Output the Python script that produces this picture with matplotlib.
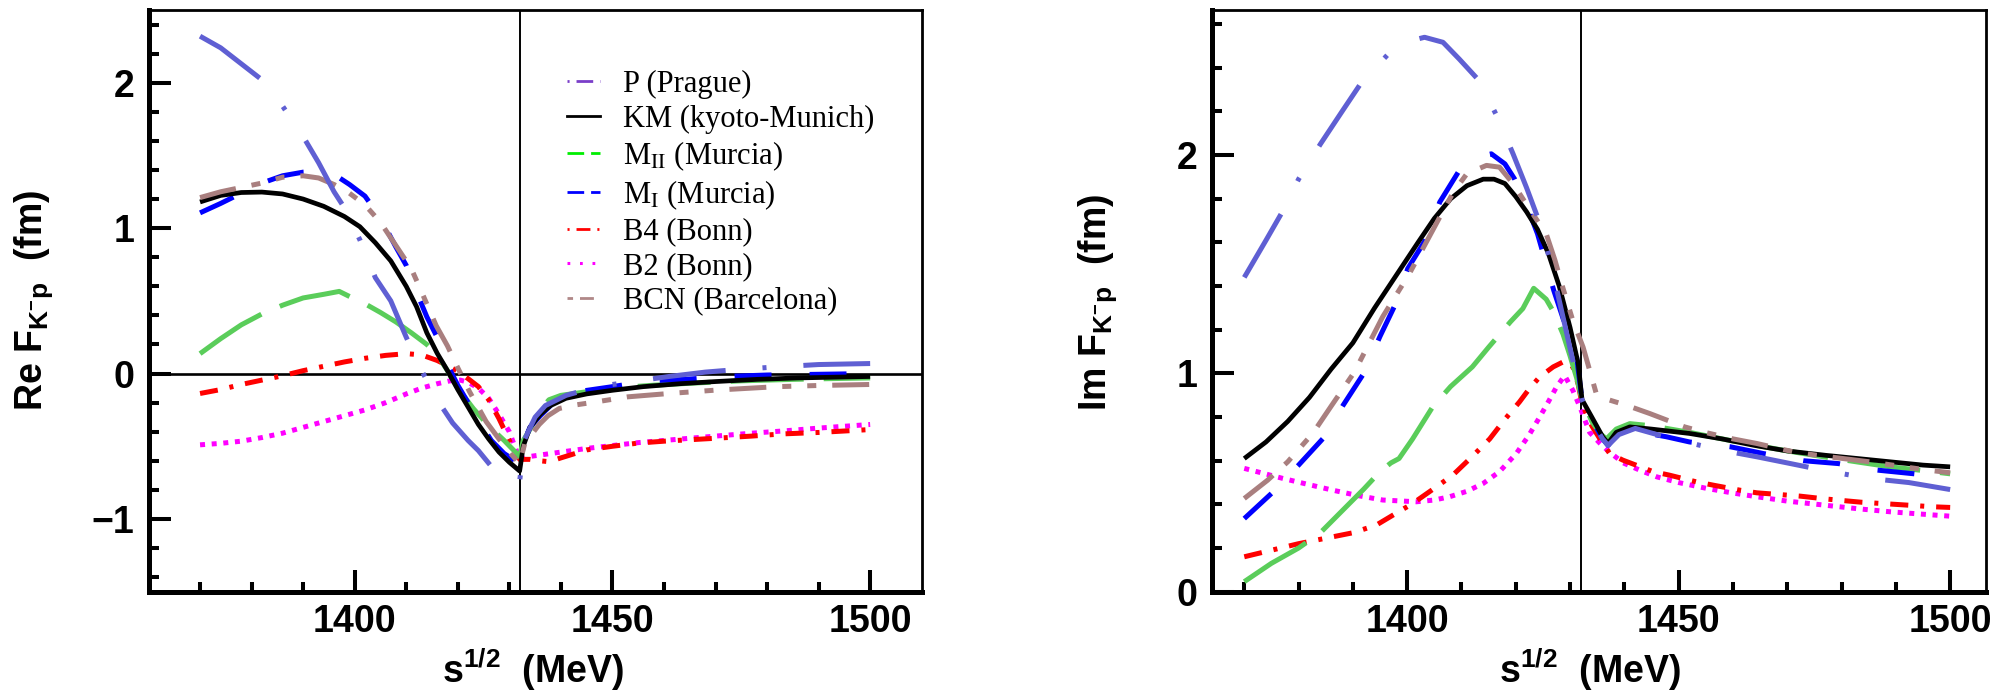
import matplotlib
matplotlib.use("Agg")
import matplotlib.pyplot as plt
from matplotlib.lines import Line2D
from matplotlib.font_manager import FontProperties
from matplotlib.ticker import MultipleLocator, FixedLocator

plt.rcParams['font.family'] = ['Liberation Sans', 'DejaVu Sans']
plt.rcParams['mathtext.fontset'] = 'custom'
plt.rcParams['mathtext.rm'] = 'Liberation Sans:bold'
plt.rcParams['mathtext.it'] = 'Liberation Sans:bold'
plt.rcParams['mathtext.bf'] = 'Liberation Sans:bold'
plt.rcParams['mathtext.default'] = 'rm'
plt.rcParams['lines.scale_dashes'] = False

# ---------------- data: Re F (left panel) ----------------
re_km_x = [1370, 1374, 1378, 1382, 1386, 1390, 1394, 1398, 1401, 1404, 1407, 1410, 1412, 1414, 1416, 1418,
           1420, 1422, 1424, 1426, 1428, 1430, 1432, 1432.7, 1434, 1436, 1438, 1441, 1445, 1450, 1456, 1463,
           1470, 1478, 1486, 1493, 1500]
re_km_y = [1.18, 1.225, 1.245, 1.248, 1.235, 1.20, 1.15, 1.08, 1.01, 0.90, 0.775, 0.60, 0.46, 0.28, 0.14, 0.02,
           -0.11, -0.23, -0.35, -0.45, -0.54, -0.61, -0.67, -0.50, -0.37, -0.28, -0.22, -0.17, -0.14, -0.115,
           -0.09, -0.07, -0.055, -0.04, -0.03, -0.025, -0.02]

re_m2_x = [1370, 1374, 1378, 1382, 1386, 1390, 1394, 1397, 1399, 1402, 1405, 1408, 1411, 1414, 1416, 1418,
           1420, 1423, 1426, 1429, 1432, 1432.7, 1434.5, 1436, 1437.7, 1440, 1445, 1450, 1458, 1466, 1475,
           1485, 1492, 1500]
re_m2_y = [0.137, 0.24, 0.335, 0.41, 0.47, 0.52, 0.545, 0.565, 0.53, 0.48, 0.42, 0.355, 0.28, 0.20, 0.13, 0.02,
           -0.10, -0.24, -0.36, -0.46, -0.57, -0.46, -0.355, -0.25, -0.18, -0.15, -0.125, -0.10, -0.08, -0.065,
           -0.05, -0.04, -0.035, -0.03]

re_m1_x = [1370, 1374, 1378, 1382, 1386, 1390, 1393, 1396, 1399, 1402, 1405, 1408, 1410, 1412, 1414, 1416,
           1418, 1420, 1422, 1424, 1426.5, 1429, 1432, 1432.7, 1434, 1436, 1438, 1440, 1443, 1450, 1457, 1464,
           1472, 1480, 1490, 1500]
re_m1_y = [1.105, 1.17, 1.24, 1.31, 1.36, 1.385, 1.39, 1.37, 1.30, 1.22, 1.07, 0.87, 0.744, 0.56, 0.39, 0.25,
           0.06, -0.08, -0.20, -0.32, -0.46, -0.55, -0.62, -0.48, -0.37, -0.29, -0.22, -0.17, -0.126, -0.09,
           -0.05, -0.04, -0.02, -0.01, -0.005, 0.0]

re_p_x = [1370, 1374, 1378, 1382, 1386, 1390, 1393, 1396, 1398, 1401, 1404, 1407, 1410, 1413, 1416, 1419,
          1422, 1424, 1427, 1429.5, 1432, 1433, 1435, 1437, 1441, 1445, 1450, 1455, 1461, 1468, 1475, 1482,
          1490, 1500]
re_p_y = [2.32, 2.24, 2.13, 2.02, 1.84, 1.63, 1.45, 1.25, 1.14, 0.92, 0.66, 0.50, 0.25, 0.02, -0.18, -0.34,
          -0.46, -0.53, -0.66, -0.72, -0.74, -0.45, -0.30, -0.22, -0.15, -0.11, -0.075, -0.05, -0.02, 0.01,
          0.03, 0.046, 0.062, 0.069]

re_b4_x = [1370, 1374, 1378, 1382, 1386, 1390, 1394, 1398, 1402, 1406, 1410, 1413, 1416, 1418, 1420, 1422,
           1424, 1426, 1428, 1430, 1432, 1434, 1436, 1437.7, 1440, 1445, 1450, 1455, 1460, 1465, 1470, 1477,
           1483, 1490, 1500]
re_b4_y = [-0.137, -0.11, -0.075, -0.045, -0.015, 0.02, 0.05, 0.08, 0.105, 0.125, 0.137, 0.128, 0.09, 0.055,
           0.015, -0.035, -0.09, -0.18, -0.31, -0.46, -0.59, -0.59, -0.60, -0.606, -0.58, -0.525, -0.50,
           -0.478, -0.465, -0.455, -0.445, -0.43, -0.415, -0.405, -0.385]

re_b2_x = [1370, 1374, 1378, 1382, 1386, 1390, 1394, 1398, 1402, 1406, 1410, 1413, 1416, 1418.5, 1420.5,
           1422, 1424, 1426, 1428, 1430, 1432, 1434, 1437, 1440, 1445, 1450, 1455, 1460, 1465, 1470, 1477,
           1483, 1490, 1500]
re_b2_y = [-0.49, -0.48, -0.465, -0.44, -0.41, -0.37, -0.33, -0.29, -0.25, -0.20, -0.14, -0.10, -0.07, -0.05,
           -0.045, -0.06, -0.10, -0.17, -0.28, -0.40, -0.59, -0.57, -0.555, -0.54, -0.515, -0.495, -0.475,
           -0.46, -0.445, -0.43, -0.41, -0.395, -0.375, -0.35]

re_bcn_x = [1370, 1374, 1378, 1382, 1386, 1390, 1393, 1396, 1399, 1402, 1405, 1408, 1411, 1413, 1415.8,
            1418, 1420, 1422.3, 1425.5, 1428, 1430.5, 1432, 1433, 1435.8, 1437.5, 1439.7, 1443, 1446.8, 1453,
            1461, 1470, 1482, 1490, 1500]
re_bcn_y = [1.21, 1.25, 1.28, 1.31, 1.35, 1.36, 1.345, 1.30, 1.24, 1.16, 1.04, 0.88, 0.72, 0.56, 0.33, 0.19,
            0.04, -0.126, -0.33, -0.45, -0.56, -0.62, -0.48, -0.35, -0.29, -0.24, -0.215, -0.195, -0.16,
            -0.137, -0.114, -0.09, -0.082, -0.075]

# ---------------- data: Im F (right panel) ----------------
im_km_x = [1370, 1374, 1378, 1382, 1386, 1390, 1394, 1398, 1402, 1405, 1408, 1411, 1414, 1416, 1418, 1420,
           1422, 1424, 1426, 1428, 1430, 1431.5, 1432.2, 1434, 1436, 1437, 1438.5, 1441, 1445, 1452, 1458,
           1464, 1470, 1477, 1483, 1489, 1495, 1500]
im_km_y = [0.61, 0.686, 0.78, 0.89, 1.02, 1.14, 1.30, 1.45, 1.60, 1.71, 1.80, 1.86, 1.89, 1.89, 1.87, 1.81,
           1.74, 1.66, 1.55, 1.40, 1.21, 1.045, 0.88, 0.80, 0.71, 0.68, 0.73, 0.755, 0.745, 0.725, 0.70, 0.67,
           0.645, 0.625, 0.61, 0.595, 0.58, 0.572]

im_m2_x = [1370, 1375, 1380, 1384, 1388, 1392, 1395, 1397, 1398.5, 1401, 1404.7, 1408, 1412, 1415, 1419,
           1421.3, 1423.3, 1425.6, 1427, 1428.7, 1430, 1431.2, 1432.1, 1434, 1435.5, 1436.7, 1438.5, 1441,
           1445, 1452, 1458, 1464.4, 1470, 1476.7, 1483, 1489, 1495, 1500]
im_m2_y = [0.046, 0.13, 0.20, 0.27, 0.37, 0.47, 0.55, 0.59, 0.61, 0.70, 0.847, 0.94, 1.03, 1.12, 1.236, 1.297,
           1.39, 1.34, 1.28, 1.18, 1.08, 0.98, 0.89, 0.78, 0.725, 0.70, 0.745, 0.77, 0.76, 0.73, 0.70, 0.67,
           0.645, 0.618, 0.594, 0.572, 0.555, 0.54]

im_m1_x = [1370, 1375, 1380, 1384.8, 1388.2, 1392, 1395, 1397.7, 1400.1, 1403.5, 1406, 1409.6, 1412.5,
           1415.5, 1418, 1419.8, 1422, 1424, 1427, 1429, 1431.2, 1432.2, 1434, 1436, 1437, 1438.5, 1441,
           1447.7, 1452, 1459.5, 1465.6, 1473, 1479.4, 1486.6, 1493.4, 1500]
im_m1_y = [0.335, 0.45, 0.58, 0.71, 0.854, 1.00, 1.17, 1.31, 1.48, 1.617, 1.785, 1.93, 1.99, 2.006, 1.96,
           1.89, 1.77, 1.64, 1.38, 1.23, 1.075, 0.88, 0.79, 0.70, 0.67, 0.72, 0.74, 0.71, 0.686, 0.664, 0.633,
           0.60, 0.587, 0.557, 0.54, 0.525]

im_p_x = [1370, 1374, 1377, 1380, 1384, 1388, 1391.5, 1396.4, 1400, 1403.2, 1406.6, 1409.6, 1413.3, 1416.7,
          1419.5, 1422, 1424.4, 1426.5, 1428.5, 1430.5, 1432.2, 1434, 1436, 1437, 1439, 1442, 1446, 1450.6,
          1457.3, 1464.4, 1470, 1477.9, 1485.2, 1492.4, 1500]
im_p_y = [1.44, 1.61, 1.74, 1.89, 2.05, 2.20, 2.33, 2.46, 2.52, 2.54, 2.517, 2.44, 2.34, 2.17, 2.006, 1.85,
          1.69, 1.50, 1.28, 1.06, 0.88, 0.78, 0.70, 0.67, 0.72, 0.748, 0.72, 0.69, 0.651, 0.618, 0.59, 0.55,
          0.519, 0.50, 0.468]

im_b4_x = [1370, 1375, 1380, 1385, 1390, 1394.3, 1398, 1401, 1404.5, 1408.4, 1412, 1415.2, 1418, 1420.7,
           1422.5, 1424.4, 1426.9, 1429.3, 1430.5, 1431.5, 1432.2, 1434, 1436, 1437.3, 1439.7, 1445.3, 1448.3,
           1453.3, 1456.4, 1461.3, 1464.4, 1472.3, 1477, 1483.6, 1490, 1496.9, 1500]
im_b4_y = [0.16, 0.19, 0.22, 0.245, 0.27, 0.305, 0.36, 0.404, 0.465, 0.534, 0.62, 0.70, 0.79, 0.87, 0.93,
           0.984, 1.03, 1.06, 1.03, 0.95, 0.86, 0.76, 0.68, 0.633, 0.603, 0.55, 0.534, 0.503, 0.488, 0.465,
           0.453, 0.438, 0.425, 0.41, 0.40, 0.389, 0.386]

im_b2_x = [1370, 1377.1, 1382, 1386.3, 1391, 1395.5, 1401.7, 1405, 1407.8, 1411, 1414, 1417, 1420.1, 1422.5,
           1424.4, 1426, 1427.5, 1429, 1430.5, 1431.8, 1433.6, 1435.5, 1437, 1439.8, 1443, 1446, 1450, 1455.2,
           1460, 1464.4, 1470, 1476.7, 1483, 1489, 1495, 1500]
im_b2_y = [0.565, 0.519, 0.49, 0.465, 0.44, 0.42, 0.412, 0.42, 0.435, 0.46, 0.496, 0.55, 0.633, 0.72, 0.80,
           0.87, 0.938, 0.99, 0.923, 0.847, 0.73, 0.68, 0.645, 0.59, 0.555, 0.526, 0.50, 0.473, 0.452, 0.435,
           0.415, 0.397, 0.38, 0.366, 0.355, 0.346]

im_bcn_x = [1370, 1374.3, 1378, 1382.6, 1386, 1390.3, 1395.5, 1400.4, 1406, 1408.5, 1411, 1414.6, 1417,
            1419.5, 1422.5, 1425.6, 1427.2, 1428.7, 1430.5, 1432.4, 1434.8, 1437, 1440.4, 1444.7, 1451.1,
            1454.5, 1460, 1464.4, 1471.1, 1475.4, 1480.3, 1485.2, 1491.6, 1495.9, 1500]
im_bcn_y = [0.427, 0.511, 0.595, 0.725, 0.85, 1.007, 1.26, 1.457, 1.716, 1.83, 1.915, 1.953, 1.945, 1.87,
            1.754, 1.64, 1.52, 1.39, 1.243, 1.12, 0.91, 0.88, 0.854, 0.816, 0.755, 0.732, 0.70, 0.679, 0.641,
            0.625, 0.61, 0.595, 0.572, 0.557, 0.545]

labels = ['P (Prague)', 'KM (kyoto-Munich)', r'M$_{\mathrm{II}}$ (Murcia)', r'M$_{\mathrm{I}}$ (Murcia)',
          'B4 (Bonn)', 'B2 (Bonn)', 'BCN (Barcelona)']
threshold = 1432.0

# ---------------- styles ----------------
LW = 3.6
styles = {
    'B2':  dict(color='#ff00ff', lw=LW, ls=(0, (3.6, 4.8))),
    'B4':  dict(color='#ff0000', lw=LW, ls=(0, (13, 8.6, 2.9, 8.6))),
    'MII': dict(color='#5acd5a', lw=LW, ls=(0, (52.6, 14.4))),
    'MI':  dict(color='#0000ff', lw=LW, ls=(0, (26.6, 27.4))),
    'KM':  dict(color='black', lw=3.4, ls='-'),
    'BCN': dict(color='#a97f7f', lw=LW, ls=(0, (26.6, 11.5, 6.5, 11.5, 6.5, 11.5))),
    'P':   dict(color='#5f5fd3', lw=LW, ls=(0, (52.6, 26.6, 2.9, 26.6))),
}

fig = plt.figure(figsize=(20.16, 6.96), dpi=100)
W, H = 2016.0, 696.0
ax1 = fig.add_axes([148.5 / W, 1 - 591.7 / H, (921.7 - 148.5) / W, (591.7 - 10) / H])
ax2 = fig.add_axes([1211.7 / W, 1 - 591.7 / H, (1986 - 1211.7) / W, (591.7 - 10) / H])

left_series = [('B2', re_b2_x, re_b2_y), ('B4', re_b4_x, re_b4_y), ('MII', re_m2_x, re_m2_y),
               ('MI', re_m1_x, re_m1_y), ('KM', re_km_x, re_km_y), ('BCN', re_bcn_x, re_bcn_y),
               ('P', re_p_x, re_p_y)]
right_series = [('B2', im_b2_x, im_b2_y), ('B4', im_b4_x, im_b4_y), ('MII', im_m2_x, im_m2_y),
                ('MI', im_m1_x, im_m1_y), ('KM', im_km_x, im_km_y), ('BCN', im_bcn_x, im_bcn_y),
                ('P', im_p_x, im_p_y)]

for ax, series in ((ax1, left_series), (ax2, right_series)):
    for key, xs, ys in series:
        st = styles[key]
        ax.plot(xs, ys, color=st['color'], lw=st['lw'], linestyle=st['ls'],
                solid_capstyle='butt', dash_capstyle='butt', solid_joinstyle='round', zorder=3)
    ax.axvline(threshold, color='black', lw=1.4, zorder=2)

ax1.axhline(0, color='black', lw=1.9, zorder=2)

ax1.set_xlim(1360, 1510)
ax1.set_ylim(-1.5, 2.5)
ax2.set_xlim(1364, 1506.6)
ax2.set_ylim(0, 2.665)

for ax in (ax1, ax2):
    ax.xaxis.set_major_locator(FixedLocator([1400, 1450, 1500]))
    ax.xaxis.set_minor_locator(FixedLocator([1370, 1380, 1390, 1410, 1420, 1430, 1440, 1460, 1470, 1480, 1490]))
    ax.yaxis.set_major_locator(MultipleLocator(1))
    ax.yaxis.set_minor_locator(MultipleLocator(0.2))
    ax.tick_params(which='both', direction='in', top=False, right=False, width=2.9)
    ax.tick_params(which='major', length=16)
    ax.tick_params(which='minor', length=7)
    ax.tick_params(axis='x', which='major', pad=9)
    ax.tick_params(axis='y', which='major', pad=10)
    for lab in ax.get_xticklabels() + ax.get_yticklabels():
        lab.set_fontsize(27)
        lab.set_fontweight('bold')
    for s in ('left', 'bottom'):
        ax.spines[s].set_linewidth(3.6)
    for s in ('top', 'right'):
        ax.spines[s].set_linewidth(2.0)

lab_kw = dict(fontsize=27, fontweight='bold')
fig.text(34 / W, 1 - 300 / H, r'Re F$_{\mathrm{K^{-}p}}$  (fm)', rotation=90, ha='center', va='center', **lab_kw)
fig.text(1098 / W, 1 - 302 / H, r'Im F$_{\mathrm{K^{-}p}}$  (fm)', rotation=90, ha='center', va='center', **lab_kw)
fig.text(533 / W, 1 - 670 / H, r's$^{\mathrm{1/2}}$  (MeV)', ha='center', va='center', **lab_kw)
fig.text(1590 / W, 1 - 670 / H, r's$^{\mathrm{1/2}}$  (MeV)', ha='center', va='center', **lab_kw)

# legend proxies (thin handles, as in the reference legend)
handles = [
    Line2D([], [], color='#7a3ec9', lw=2.0, ls=(0, (1.5, 5, 12, 5))),
    Line2D([], [], color='black', lw=2.0, ls='-'),
    Line2D([], [], color='#00ee00', lw=2.0, ls=(0, (12, 5))),
    Line2D([], [], color='#0000ff', lw=2.0, ls=(0, (12, 5))),
    Line2D([], [], color='#ff0000', lw=2.0, ls=(0, (1.5, 5, 10, 5))),
    Line2D([], [], color='#ff00ff', lw=2.2, ls=(0, (2, 7))),
    Line2D([], [], color='#b08888', lw=2.0, ls=(0, (4, 5, 10, 5))),
]
leg_font = FontProperties(family='Liberation Serif', size=22, math_fontfamily='stix')
ax1.legend(handles, labels, prop=leg_font, frameon=False, loc='upper left',
           bbox_to_anchor=(566.7 / W, 1 - 70 / H), bbox_transform=fig.transFigure,
           borderaxespad=0, borderpad=0, handlelength=1.08, handletextpad=0.75, labelspacing=0.18)

fig.savefig('out.png', dpi=100, facecolor='white')
